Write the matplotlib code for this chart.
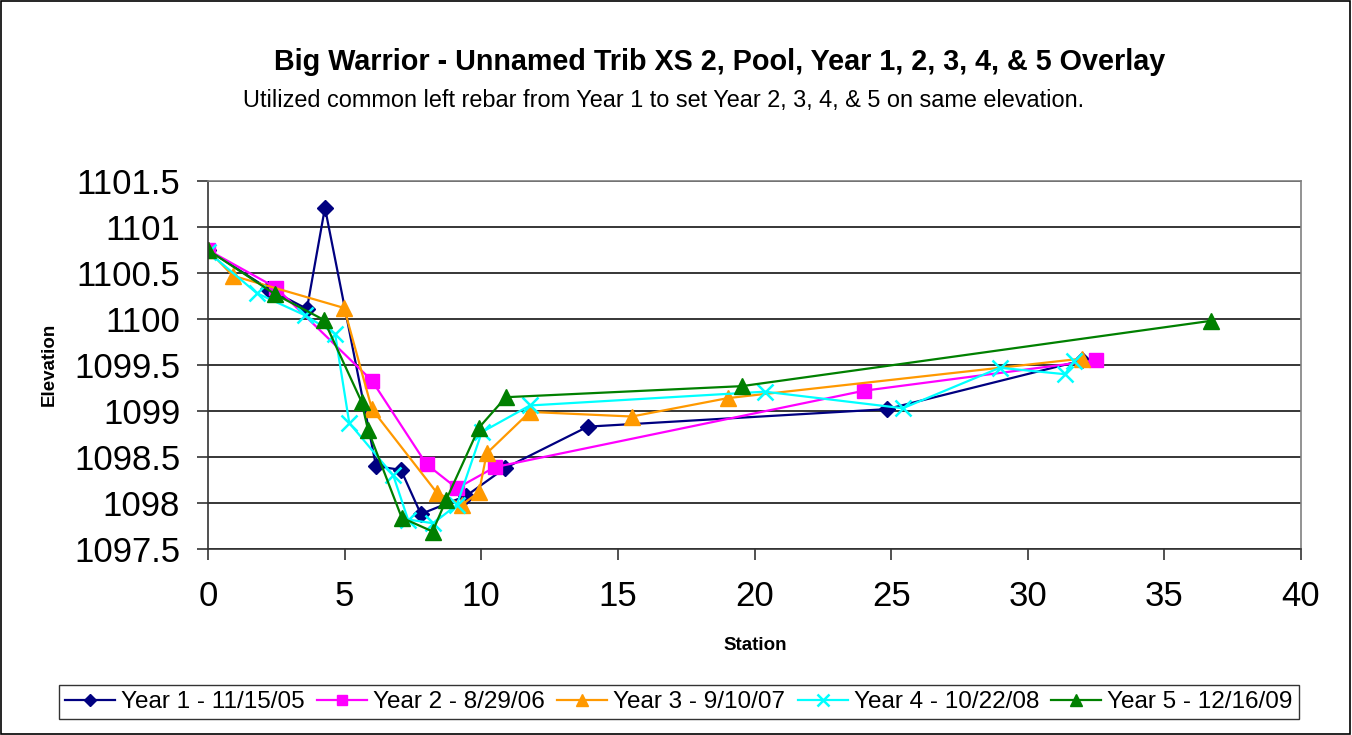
import matplotlib
matplotlib.use("Agg")
import matplotlib.pyplot as plt
from matplotlib.patches import Rectangle
from matplotlib.ticker import FuncFormatter

plt.rcParams['font.family'] = ['Liberation Sans', 'DejaVu Sans']

# Survey data: station (ft) and elevation (ft) for each year
y1_station = [0, 2.2, 3.62, 4.28, 6.15, 7.06, 7.79, 9.46, 10.87, 13.9, 24.84, 32.0]
y1_elev = [1100.75, 1100.33, 1100.11, 1101.21, 1098.40, 1098.36, 1097.88, 1098.08, 1098.38, 1098.83, 1099.02, 1099.55]

y2_station = [0, 2.49, 6.0, 8.0, 9.11, 10.5, 24.0, 32.49]
y2_elev = [1100.75, 1100.34, 1099.33, 1098.42, 1098.16, 1098.39, 1099.22, 1099.55]

y3_station = [0, 0.91, 4.98, 6.0, 8.38, 9.29, 9.92, 10.2, 11.78, 15.51, 19.02, 32.0]
y3_elev = [1100.75, 1100.47, 1100.12, 1099.02, 1098.11, 1097.98, 1098.12, 1098.54, 1098.99, 1098.94, 1099.14, 1099.57]

y4_station = [0, 1.79, 3.55, 4.65, 5.17, 6.78, 7.32, 8.24, 9.11, 10.02, 11.78, 20.38, 25.43, 28.98, 31.36, 31.69]
y4_elev = [1100.73, 1100.28, 1100.04, 1099.84, 1098.87, 1098.30, 1097.82, 1097.78, 1097.98, 1098.77, 1099.06, 1099.21, 1099.03, 1099.47, 1099.40, 1099.54]

y5_station = [0, 2.45, 4.24, 5.62, 5.86, 7.09, 8.22, 8.71, 9.92, 10.9, 19.53, 36.7]
y5_elev = [1100.75, 1100.27, 1099.99, 1099.10, 1098.79, 1097.84, 1097.69, 1098.03, 1098.82, 1099.15, 1099.27, 1099.98]

series_labels = ["Year 1 - 11/15/05", "Year 2 - 8/29/06", "Year 3 - 9/10/07",
                 "Year 4 - 10/22/08", "Year 5 - 12/16/09"]

x_ticks = [0, 5, 10, 15, 20, 25, 30, 35, 40]
y_ticks = [1097.5, 1098, 1098.5, 1099, 1099.5, 1100, 1100.5, 1101, 1101.5]

fig = plt.figure(figsize=(13.52, 7.35), dpi=100)
fig.patch.set_facecolor("white")
fig.patches.append(Rectangle((0.0005, 0.001), 0.998, 0.998, transform=fig.transFigure,
                             fill=False, edgecolor="black", linewidth=1.2))

ax = fig.add_axes([208 / 1352, 1 - 549 / 735, 1093 / 1352, 368 / 735])

styles = [
    dict(color="#000080", marker="D", markersize=8.5),
    dict(color="#FF00FF", marker="s", markersize=10),
    dict(color="#FF9900", marker="^", markersize=11),
    dict(color="#00FFFF", marker="x", markersize=11, markeredgewidth=1.8),
    dict(color="#008000", marker="^", markersize=11),
]
data = [(y1_station, y1_elev), (y2_station, y2_elev), (y3_station, y3_elev),
        (y4_station, y4_elev), (y5_station, y5_elev)]

handles = []
for (xs, ys), st, lab in zip(data, styles, series_labels):
    h, = ax.plot(xs, ys, linewidth=1.6, label=lab, **st)
    handles.append(h)

ax.set_xlim(0, 40)
ax.set_ylim(1097.5, 1101.5)
ax.set_xticks(x_ticks)
ax.set_yticks(y_ticks)
ax.yaxis.set_major_formatter(FuncFormatter(lambda v, p: f"{v:g}"))
ax.tick_params(axis="both", labelsize=25, direction="out", length=8, width=1.2, color="#333333")
ax.tick_params(axis="x", pad=14)
ax.tick_params(axis="y", pad=12)
ax.grid(axis="y", color="black", linewidth=1.1)
ax.set_axisbelow(True)
for s in ax.spines.values():
    s.set_color("#808080")
    s.set_linewidth(1.2)
ax.spines["left"].set_color("#333333")
ax.spines["bottom"].set_color("#333333")

fig.text(49 / 1352, 1 - 364 / 735, "Elevation", rotation=90,
         fontsize=13.5, fontweight="bold", ha="center", va="center")
fig.text(755 / 1352, 1 - 646 / 735, "Station", fontsize=13.5, fontweight="bold",
         ha="center", va="center")

fig.text(720 / 1352, 1 - 62 / 735,
         "Big Warrior - Unnamed Trib XS 2, Pool, Year 1, 2, 3, 4, & 5 Overlay",
         fontsize=20.7, fontweight="bold", ha="center", va="center")
fig.text(664 / 1352, 1 - 101 / 735,
         "Utilized common left rebar from Year 1 to set Year 2, 3, 4, & 5 on same elevation.",
         fontsize=16.9, ha="center", va="center")

leg = fig.legend(handles=handles, loc="center", bbox_to_anchor=(679 / 1352, 1 - 702 / 735),
                 ncol=5, fontsize=17.5, frameon=True, fancybox=False, handlelength=2.06,
                 handletextpad=0.25, columnspacing=0.5, borderpad=0.25, markerscale=0.75)
leg.get_frame().set_edgecolor("black")
leg.get_frame().set_linewidth(1.0)

fig.savefig("out.png", dpi=100)
